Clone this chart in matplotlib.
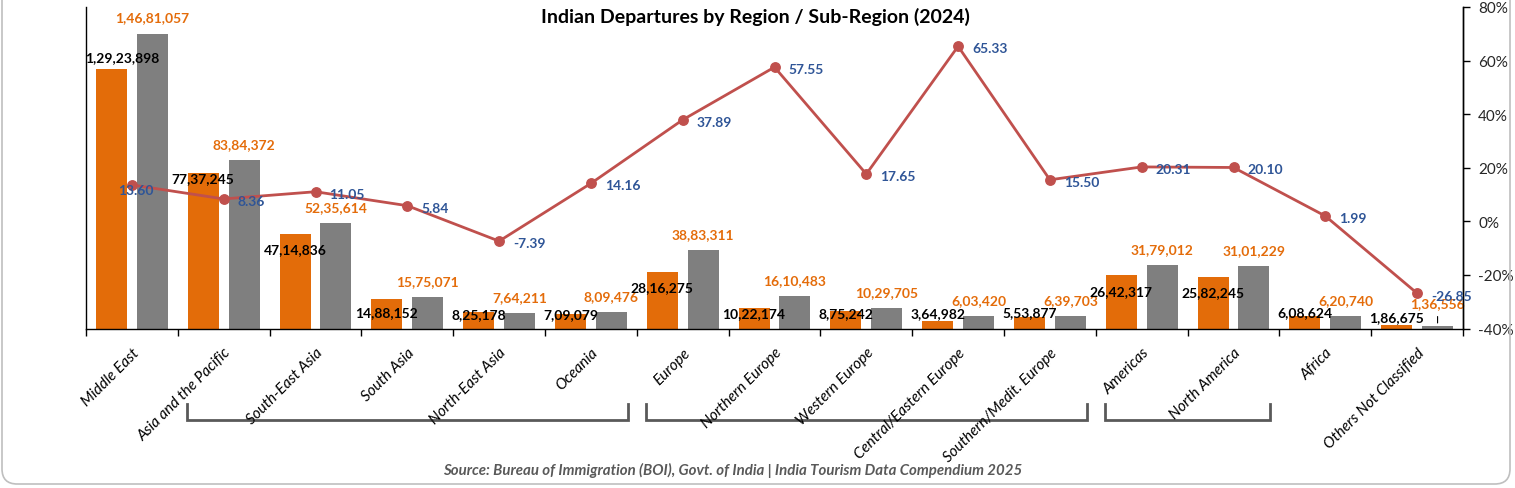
import matplotlib
matplotlib.use("Agg")
import matplotlib.pyplot as plt
from matplotlib.patches import FancyBboxPatch
from matplotlib.ticker import FuncFormatter
import matplotlib.transforms as mtransforms

# ---------------- data ----------------
categories = ["Middle East", "Asia and the Pacific", "South-East Asia", "South Asia",
              "North-East Asia", "Oceania", "Europe", "Northern Europe", "Western Europe",
              "Central/Eastern Europe", "Southern/Medit. Europe", "Americas",
              "North America", "Africa", "Others Not Classified"]
departures_2023 = [12923898, 7737245, 4714836, 1488152, 825178, 709079, 2816275,
                   1022174, 875242, 364982, 553877, 2642317, 2582245, 608624, 186675]
departures_2024 = [14681057, 8384372, 5235614, 1575071, 764211, 809476, 3883311,
                   1610483, 1029705, 603420, 639703, 3179012, 3101229, 620740, 136556]
growth_pct = [13.60, 8.36, 11.05, 5.84, -7.39, 14.16, 37.89, 57.55, 17.65, 65.33,
              15.50, 20.31, 20.10, 1.99, -26.85]
groups = [(1, 5), (6, 10), (11, 12)]  # first/last category index of each sub-region bracket

title = "Indian Departures by Region / Sub-Region (2024)"
source = "Source: Bureau of Immigration (BOI), Govt. of India | India Tourism Data Compendium 2025"

# ---------------- style ----------------
ORANGE = "#E36C09"
GRAY = "#7F7F7F"
LINE = "#C0504D"
BLUE = "#2F5597"
LBL_ORANGE = "#E46C0A"
FONT = "Lato"

# label offsets (pixels) - style only
black_dy = [12, -5, -15, -13, -2, 0, -15, -5, -2, 8, 5, -16, -15, 4, 8]
black_dx = [11, 0, 0, 0, 0, 0, 0, 0, 0, 0, 0, 0, 0, 0, 0]
orange_dy = [16] * 14 + [23]
line_dx = [-14] + [14] * 14
line_dy = [-5] + [-2] * 13 + [-3]

W, H = 1515, 489
fig = plt.figure(figsize=(W / 100, H / 100), dpi=100)
ax = fig.add_axes([86 / W, 1 - 329.5 / H, (1463 - 86) / W, (329.5 - 8) / H])
ax2 = ax.twinx()

n = len(categories)
centers = [i + 0.5 for i in range(n)]
bw = 0.338
off = 0.223
x_or = [c - off for c in centers]
x_gr = [c + off for c in centers]
ax.bar(x_or, departures_2023, width=bw, color=ORANGE, zorder=2)
ax.bar(x_gr, departures_2024, width=bw, color=GRAY, zorder=2)
ax.set_xlim(0, n)
ax.set_ylim(0, 16000000)
ax.set_yticks([])

def fmt_indian(v):
    s = str(int(v))
    if len(s) <= 3:
        return s
    last3 = s[-3:]
    rest = s[:-3]
    parts = []
    while len(rest) > 2:
        parts.insert(0, rest[-2:])
        rest = rest[:-2]
    if rest:
        parts.insert(0, rest)
    return ",".join(parts + [last3])

for i in range(n):
    ax.annotate(fmt_indian(departures_2023[i]), xy=(x_or[i], departures_2023[i]),
                xytext=(black_dx[i], black_dy[i]), textcoords="offset pixels",
                ha="center", va="center", fontsize=10, fontweight="bold",
                color="black", family=FONT, zorder=5)
    if i == n - 1:
        ax.annotate("", xy=(x_gr[i], departures_2024[i]), xytext=(0, 12),
                    textcoords="offset pixels",
                    arrowprops=dict(arrowstyle="-", color="black", lw=0.8), zorder=4)
    ax.annotate(fmt_indian(departures_2024[i]), xy=(x_gr[i], departures_2024[i]),
                xytext=(0, orange_dy[i]), textcoords="offset pixels",
                ha="center", va="center", fontsize=10, fontweight="bold",
                color=LBL_ORANGE, family=FONT, zorder=5)

# line on secondary axis
ax2.plot(centers, growth_pct, color=LINE, lw=2, marker="o", markersize=6.8, zorder=6)
ax2.set_ylim(-40, 80)
ax2.set_yticks(range(-40, 81, 20))
ax2.yaxis.set_major_formatter(FuncFormatter(lambda v, p: f"{v:.0f}%"))
for i in range(n):
    ax2.annotate(f"{growth_pct[i]:.2f}", xy=(centers[i], growth_pct[i]),
                 xytext=(line_dx[i], line_dy[i]), textcoords="offset pixels",
                 ha="left", va="center", fontsize=10, fontweight="bold",
                 color=BLUE, family=FONT, zorder=7)
ax2.tick_params(axis="y", length=5, width=1, color="black", labelsize=11,
                labelcolor="#262626", pad=6)
for lab in ax2.get_yticklabels():
    lab.set_family(FONT)

# x axis
ax.set_xticks(range(n + 1))
ax.set_xticklabels([])
ax.tick_params(axis="x", which="major", length=5, width=1, color="black")
ax.set_xticks(centers, minor=True)
ax.set_xticklabels(categories, minor=True, rotation=45, ha="right",
                   rotation_mode="anchor", fontsize=11, style="italic",
                   family=FONT, color="black")
ax.tick_params(axis="x", which="minor", length=0, pad=12)

for a in (ax, ax2):
    a.spines["top"].set_visible(False)
    for s in ("left", "right", "bottom"):
        a.spines[s].set_color("black")
        a.spines[s].set_linewidth(1)
ax2.spines["left"].set_visible(False)
ax2.spines["bottom"].set_visible(False)

# brackets below labels
trans = mtransforms.blended_transform_factory(ax.transData, ax.transAxes)
yt = -(405 - 329.5) / (329.5 - 8)
yb = -(421 - 329.5) / (329.5 - 8)
for g0, g1 in groups:
    xa, xb = g0 + 0.1, g1 + 0.9
    ax.plot([xa, xa, xb, xb], [yt, yb, yb, yt], transform=trans, color="#595959",
            lw=2, clip_on=False, solid_joinstyle="miter", zorder=1)

fig.text(755 / W, 1 - 17 / H, title, ha="center", va="center", fontsize=14,
         fontweight="bold", family=FONT, color="black")
fig.text(733 / W, 1 - 470 / H, source, ha="center", va="center", fontsize=10.8,
         fontweight="bold", style="italic", family=FONT, color="#595959")

border = FancyBboxPatch((2 / W, 4 / H), (1510 - 2) / W, 1.2, boxstyle="round,pad=0,rounding_size=0.01",
                        transform=fig.transFigure, fill=False, edgecolor="#BFBFBF", lw=1.2,
                        mutation_aspect=W / H)
fig.patches.append(border)

fig.savefig("out.png", dpi=100)
